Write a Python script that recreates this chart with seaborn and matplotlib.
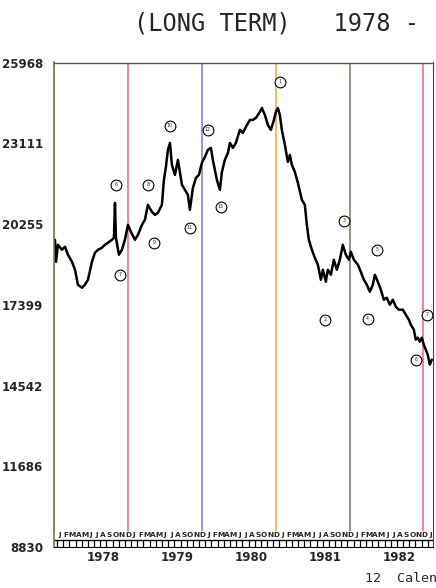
import numpy as np
import pandas as pd
import matplotlib
matplotlib.use('Agg')
import matplotlib.pyplot as plt
import seaborn as sns

# index readings taken off the chart (decimal year, level)
t = [1977.973, 1977.987, 1978.013, 1978.067, 1978.108, 1978.148, 1978.202, 1978.243, 1978.283,
     1978.337, 1978.377, 1978.418, 1978.472, 1978.512, 1978.553, 1978.606, 1978.647, 1978.687,
     1978.741, 1978.768, 1978.782, 1978.795, 1978.836, 1978.876, 1978.916, 1978.957, 1978.997,
     1979.051, 1979.092, 1979.146, 1979.186, 1979.226, 1979.280, 1979.321, 1979.361, 1979.415,
     1979.442, 1979.469, 1979.496, 1979.523, 1979.550, 1979.590, 1979.631, 1979.685, 1979.725,
     1979.765, 1979.792, 1979.833, 1979.873, 1979.914, 1979.954, 1979.995, 1980.035, 1980.075,
     1980.102, 1980.156, 1980.197, 1980.224, 1980.264, 1980.305, 1980.332, 1980.372, 1980.412,
     1980.466, 1980.507, 1980.547, 1980.601, 1980.642, 1980.682, 1980.736, 1980.763, 1980.803,
     1980.844, 1980.884, 1980.925, 1980.951, 1980.978, 1981.005, 1981.032, 1981.073, 1981.113,
     1981.140, 1981.167, 1981.207, 1981.248, 1981.302, 1981.342, 1981.369, 1981.396, 1981.437,
     1981.477, 1981.518, 1981.558, 1981.585, 1981.625, 1981.652, 1981.693, 1981.733, 1981.774,
     1981.814, 1981.854, 1981.895, 1981.935, 1981.962, 1982.003, 1982.057, 1982.097, 1982.137,
     1982.178, 1982.218, 1982.259, 1982.286, 1982.326, 1982.367, 1982.407, 1982.447, 1982.488,
     1982.528, 1982.569, 1982.609, 1982.663, 1982.704, 1982.744, 1982.771, 1982.811, 1982.838,
     1982.865, 1982.892, 1982.919, 1982.946, 1982.973, 1982.999, 1983.027, 1983.054]
level = [19697, 18920, 19520, 19344, 19450, 19167, 18920, 18637, 18107,
         18001, 18107, 18284, 18920, 19238, 19344, 19415, 19520, 19591,
         19697, 19768, 21004, 19768, 19167, 19344, 19697, 20227, 19980,
         19697, 19874, 20227, 20404, 20933, 20686, 20580, 20651, 20933,
         21817, 22276, 22877, 23124, 22347, 21993, 22523, 21640, 21463,
         21287, 20757, 21534, 21887, 21993, 22417, 22629, 22877, 22947,
         22523, 21817, 21463, 22099, 22523, 22771, 23124, 22947, 23124,
         23583, 23477, 23689, 23937, 23937, 24007, 24219, 24360, 24113,
         23760, 23583, 23937, 24219, 24360, 24113, 23583, 23053, 22453,
         22700, 22347, 22099, 21711, 21110, 20933, 20227, 19697, 19344,
         19061, 18814, 18284, 18637, 18213, 18637, 18460, 18990, 18637,
         18990, 19520, 19167, 18990, 19273, 18990, 18814, 18566, 18284,
         18107, 17860, 18107, 18460, 18213, 17930, 17577, 17648, 17401,
         17577, 17330, 17224, 17224, 17047, 16870, 16694, 16517, 16164,
         16235, 16094, 16235, 15987, 15810, 15634, 15281, 15458]

# circled wave counts
wave_labels = ['6', '7', '8', '9', '10', '11', '12', '13', '1', '2', '3', '4', '5', '6', '7']
wave_t = [1978.795, 1978.849, 1979.226, 1979.307, 1979.523, 1979.792, 1980.035, 1980.210,
          1981.005, 1981.612, 1981.868, 1982.191, 1982.313, 1982.838, 1982.987]
wave_v = [21640, 18460, 21640, 19591, 23725, 20121, 23583, 20863,
          25279, 16870, 20368, 16906, 19344, 15458, 17047]

# coloured cycle lines
cycle_t = [1977.962, 1978.957, 1979.954, 1980.951, 1981.949, 1982.933]
cycle_colors = ['#7a7a52', '#ff5a70', '#7a78e8', '#ffa030', '#6f7f5c', '#ff5a7c']

years = [1978, 1979, 1980, 1981, 1982, 1983]
year_labels = ['1978', '1979', '1980', '1981', '1982']
months = ['J', 'F', 'M', 'A', 'M', 'J', 'J', 'A', 'S', 'O', 'N', 'D']
yticks = [8830, 11686, 14542, 17399, 20255, 23111, 25968]

sns.set_style('white')
plt.rcParams['font.family'] = ['DejaVu Sans']

fig = plt.figure(figsize=(4.36, 5.88), dpi=100)
ax = fig.add_axes([54 / 436, 1 - 547 / 588, (433 - 54) / 436, (547 - 62.5) / 588])
xmax = 1983.07

df = pd.DataFrame({'t': t, 'level': level})
sns.lineplot(data=df, x='t', y='level', color='black', linewidth=1.8, sort=False, ax=ax)

# cycle lines stop at the month band
for ct, c in zip(cycle_t, cycle_colors):
    ax.vlines(ct, 9380, 25968, color=c, linewidth=1.1, zorder=1)

# month band: letters, rule and comb ticks
for y in years:
    for i, m in enumerate(months):
        mx = y + (i + 0.5) / 12
        if mx < xmax - 0.02:
            ax.text(mx, 9250, m, ha='center', va='center',
                    fontsize=5.3, fontweight='bold', clip_on=True)
month_edges = [y + i / 12 for y in years for i in range(12) if y + i / 12 < xmax]
ax.vlines(month_edges, 8830, 9060, color='black', linewidth=0.9)
ax.axhline(9060, color='black', linewidth=1.0)

# wave count circles
ax.scatter(wave_t, wave_v, s=60, facecolor='white', edgecolor='black', linewidth=0.8, zorder=5)
for lab, wt, wv in zip(wave_labels, wave_t, wave_v):
    ax.text(wt, wv, lab, ha='center', va='center', fontsize=3.4, zorder=6)

ax.set_xlim(1977.96, xmax)
ax.set_ylim(8830, 25968)
ax.set_yticks(yticks)
ax.set_yticklabels([str(v) for v in yticks], fontsize=8.6, fontweight='bold')
ax.set_xticks([y + 0.62 for y in years[:5]])
ax.set_xticklabels(year_labels, fontsize=8.6, fontweight='bold')
ax.tick_params(axis='y', length=0, pad=8)
ax.tick_params(axis='x', length=0, pad=3)
ax.set_xlabel('')
ax.set_ylabel('')

ax.spines['left'].set_color('#7a7a52')
ax.spines['left'].set_linewidth(1.2)
ax.spines['top'].set_color('#555555')
ax.spines['top'].set_linewidth(1.0)
ax.spines['right'].set_color('#444444')
ax.spines['bottom'].set_color('black')

fig.text(134 / 436, 1 - 24 / 588, '(LONG TERM)   1978 -', fontsize=17,
         family='DejaVu Sans Mono', ha='left', va='center')
fig.text(365 / 436, 1 - 578 / 588, '12  Calen', fontsize=9.6,
         family='DejaVu Sans Mono', ha='left', va='center')

fig.savefig('out.png', dpi=100)
